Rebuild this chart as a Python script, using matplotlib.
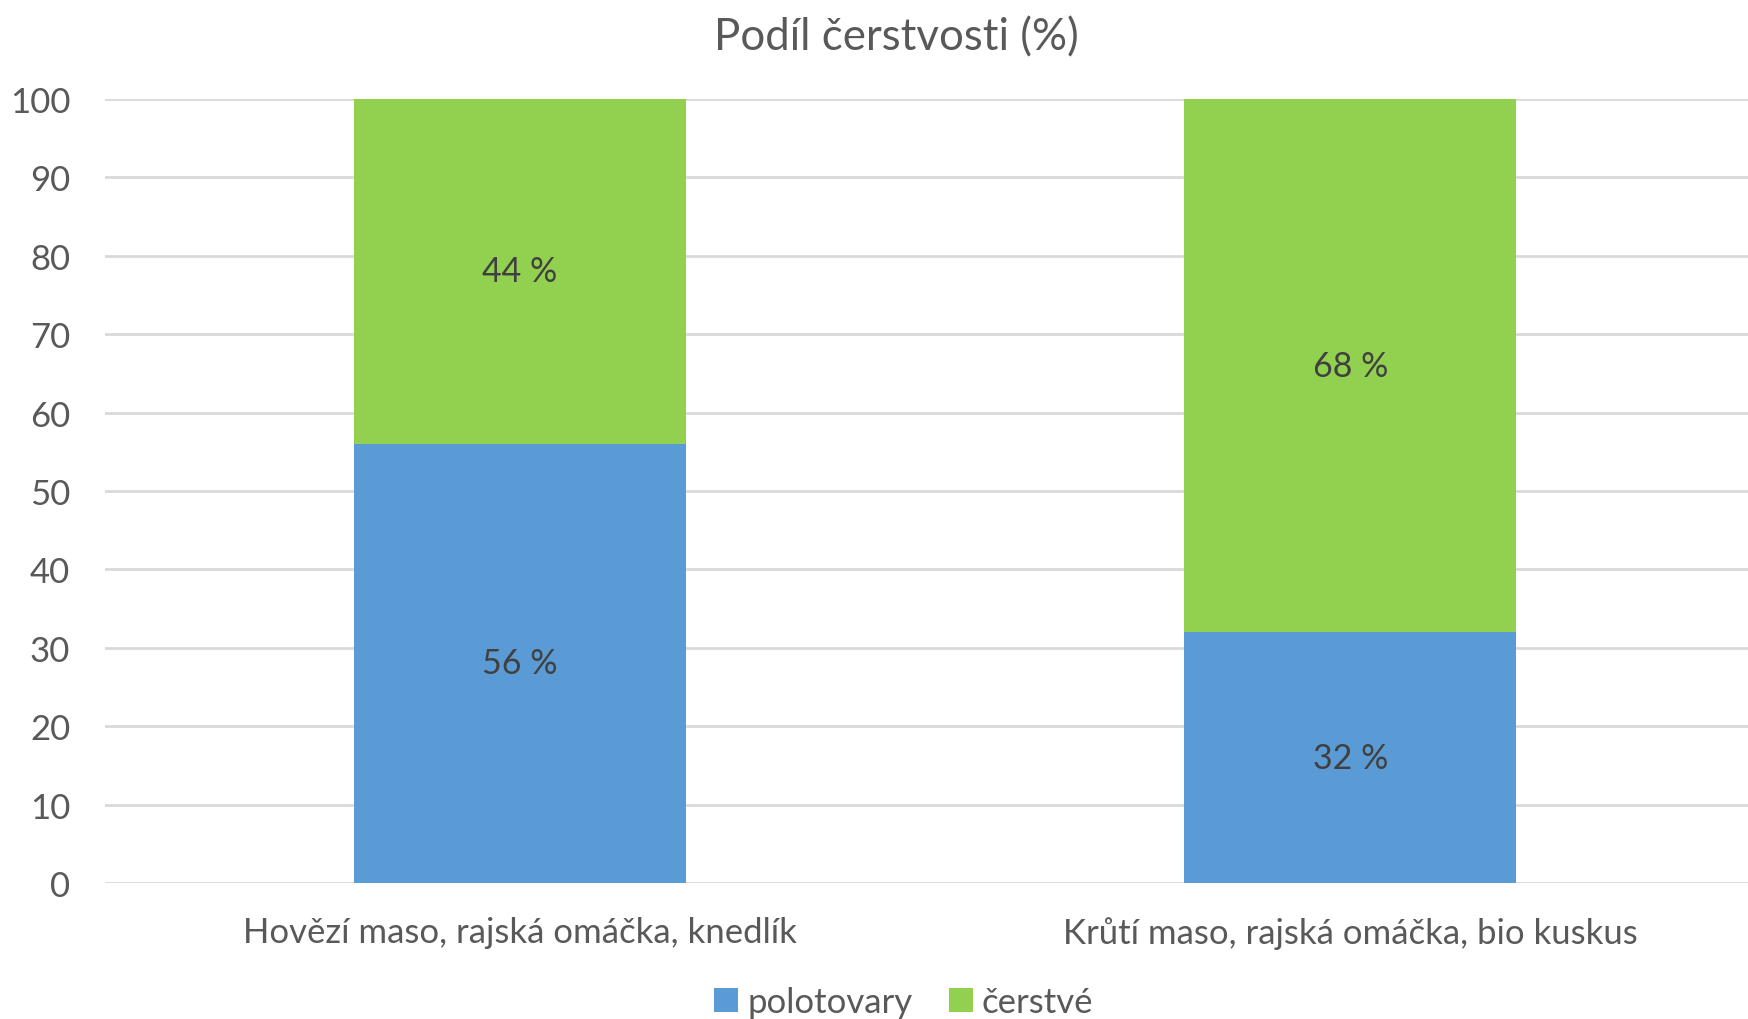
import matplotlib.pyplot as plt
import numpy as np

categories = ['Hovězí maso, rajská omáčka, knedlík', 'Krůtí maso, rajská omáčka, bio kuskus']
polotovary = [56, 32]
cerstve = [44, 68]
yticks = [0, 10, 20, 30, 40, 50, 60, 70, 80, 90, 100]

plt.rcParams['font.family'] = ['Lato', 'DejaVu Sans']
txt = '#595959'

fig = plt.figure(figsize=(17.48, 10.2), dpi=100)
ax = fig.add_axes([0.06, 0.1333, 0.95, 0.7687])

x = np.arange(len(categories))
b1 = ax.bar(x, polotovary, width=0.4, color='#5B9BD5', label='polotovary', zorder=3)
b2 = ax.bar(x, cerstve, width=0.4, bottom=polotovary, color='#92D050', label='čerstvé', zorder=3)

for bars, vals in [(b1, polotovary), (b2, cerstve)]:
    ax.bar_label(bars, labels=[f'{v} %' for v in vals], label_type='center',
                 fontsize=24.5, color='#404040')

ax.set_xlim(-0.5, 1.5)
ax.set_ylim(0, 100)
ax.set_yticks(yticks)
ax.set_xticks(x)
ax.set_xticklabels(categories)
ax.tick_params(axis='both', length=0, labelsize=25, colors=txt)
ax.tick_params(axis='x', pad=24)
ax.tick_params(axis='y', pad=25)
ax.yaxis.grid(True, color='#d9d9d9', linewidth=2, zorder=0)
for s in ax.spines.values():
    s.set_visible(False)

fig.suptitle('Podíl čerstvosti (%)', x=0.513, y=0.963, va='center', fontsize=31.5, color=txt)
fig.legend(loc='lower center', bbox_to_anchor=(0.517, -0.03), ncol=2, frameon=False,
           fontsize=25, labelcolor=txt, handlelength=0.7, handleheight=0.7,
           handletextpad=0.25, columnspacing=1.05)

fig.savefig('out.png', dpi=100)
